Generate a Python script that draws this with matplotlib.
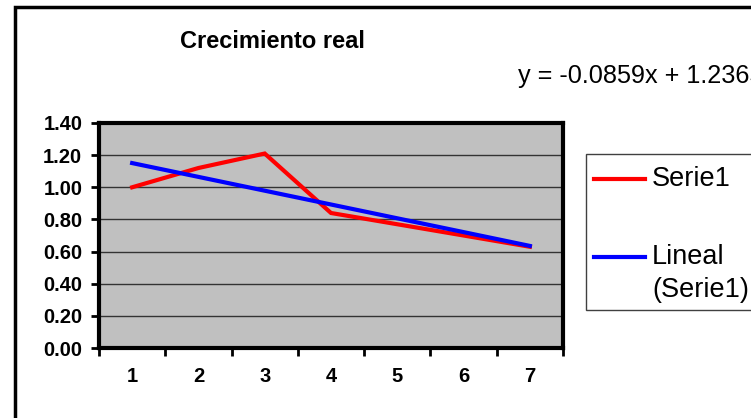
import numpy as np
import matplotlib.pyplot as plt
from matplotlib.patches import Rectangle
from matplotlib.lines import Line2D

# data
categories = [1, 2, 3, 4, 5, 6, 7]
serie1 = [1.00, 1.12, 1.21, 0.84, 0.77, 0.70, 0.63]
trend_slope = -0.0859
trend_intercept = 1.2365
yticks = [0.0, 0.2, 0.4, 0.6, 0.8, 1.0, 1.2, 1.4]

W, H = 751, 418
plt.rcParams['font.family'] = ['Liberation Sans', 'DejaVu Sans']

fig = plt.figure(figsize=(W / 100, H / 100), dpi=100)
fig.patch.set_facecolor('white')

def fx(px):
    return px / W

def fy(py):
    return 1 - py / H

# plot area in pixels: left 99, right 563, top 123, bottom 348
ax = fig.add_axes([fx(99), fy(348), fx(563 - 99), (348 - 123) / H])
ax.set_facecolor('#C0C0C0')

x = np.array(categories)
trend = trend_slope * x + trend_intercept
ax.plot(x, serie1, color='#FF0000', lw=3, solid_joinstyle='miter', zorder=3)
ax.plot(x, trend, color='#0000FF', lw=3, zorder=4)

ax.set_xlim(0.5, 7.5)
ax.set_ylim(0, 1.4)
ax.set_yticks(yticks)
ax.set_yticklabels([f'{v:.2f}' for v in yticks], fontsize=14.5, fontweight='bold')
ax.set_xticks(categories)
ax.set_xticklabels([str(c) for c in categories], fontsize=14.5, fontweight='bold')
ax.set_xticks(np.arange(0.5, 8, 1), minor=True)
ax.tick_params(axis='x', which='major', length=0, pad=14)
ax.tick_params(axis='x', which='minor', length=6, width=2, direction='out')
ax.tick_params(axis='y', length=6, width=2, direction='out', pad=6)

for v in yticks[1:-1]:
    ax.axhline(v, color='#333333', lw=1, zorder=1)

for s in ax.spines.values():
    s.set_linewidth(3)
    s.set_color('black')

# outer chart border (runs past right and bottom edges)
fig.add_artist(Rectangle((fx(15), -0.1), 1.2, fy(7) + 0.1, transform=fig.transFigure,
                         fill=False, lw=2.5, edgecolor='black'))

fig.text(fx(272), fy(42), 'Crecimiento real', fontsize=17, fontweight='bold',
         ha='center', va='center')
fig.text(fx(518), fy(83), 'y = -0.0859x + 1.2365', fontsize=18.2,
         ha='left', va='baseline')

# legend box
fig.add_artist(Rectangle((fx(586), fy(310)), fx(200), (310 - 154) / H,
                         transform=fig.transFigure, fill=True, facecolor='white',
                         lw=1, edgecolor='#404040'))
fig.add_artist(Line2D([fx(594), fx(645)], [fy(179), fy(179)], color='#FF0000', lw=3,
                      transform=fig.transFigure))
fig.add_artist(Line2D([fx(594), fx(645)], [fy(257), fy(257)], color='#0000FF', lw=3,
                      transform=fig.transFigure))
fig.text(fx(652), fy(179), 'Serie1', fontsize=19.5, ha='left', va='center')
fig.text(fx(652), fy(257), 'Lineal', fontsize=19.5, ha='left', va='center')
fig.text(fx(652), fy(290), '(Serie1)', fontsize=19.5, ha='left', va='center')

fig.savefig('out.png', dpi=100)
